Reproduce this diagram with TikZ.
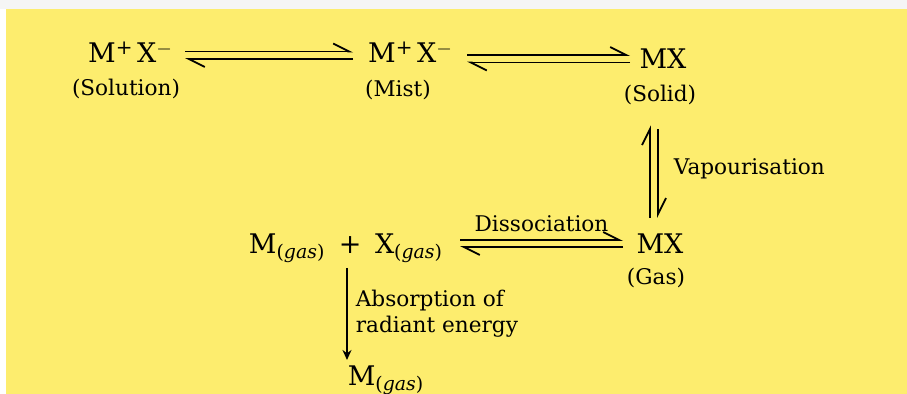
\documentclass[tikz,border=0pt]{standalone}
\usepackage{fontspec}
\setmainfont{DejaVu Serif}
\usetikzlibrary{arrows.meta}
\definecolor{paper}{RGB}{253,237,110}
\definecolor{band}{RGB}{245,245,245}
\newcommand{\charge}[1]{\raisebox{0.6ex}{\fontsize{10}{10}\selectfont #1}}

\begin{document}
\begin{tikzpicture}[
      x=0.5pt, y=-0.5pt,
      species/.style={inner sep=0pt, font=\fontsize{13.5}{16}\selectfont},
      lbl/.style={inner sep=0pt, font=\fontsize{10.8}{13}\selectfont},
      harp/.style={-{Straight Barb[harpoon, length=8pt, width=8pt]}, line width=0.9pt},
      arrow/.style={-{Stealth[length=5pt, width=4.5pt]}, line width=0.9pt}
    ]
    \useasboundingbox (0,0) rectangle (907,394);
    \fill[band] (0,0) rectangle (907,9);
    \fill[paper] (6,9) rectangle (907,394);

    \node[species, anchor=base] (sol) at (130,63) {M\charge{+}\,X\charge{$-$}};
    \node[lbl] (solL) at (126,89) {(Solution)};

    \node[species, anchor=base] (mist) at (410,63) {M\charge{+}\,X\charge{$-$}};
    \node[lbl] (mistL) at (398,90) {(Mist)};

    \node[species, anchor=base] (solid) at (663,69) {MX};
    \node[lbl] (solidL) at (660,95) {(Solid)};

    \node[species, anchor=base] (gas) at (660,254) {MX};
    \node[lbl] (gasL) at (656,278) {(Gas)};

    \node[species, anchor=base] (atoms) at (346,254) {M\textsubscript{(\textit{gas})}\enspace+\enspace X\textsubscript{(\textit{gas})}};

    \node[species, anchor=base] (mg) at (386,386) {M\textsubscript{(\textit{gas})}};

    \draw[harp] ([xshift=27.5pt,yshift=5.75pt]sol.base) -- ([xshift=-28.5pt,yshift=5.75pt]mist.base);
    \draw[harp] ([xshift=-28.5pt,yshift=2pt]mist.base) -- ([xshift=27.5pt,yshift=2pt]sol.base);

    \draw[harp] ([xshift=28.5pt,yshift=4pt]mist.base) -- ([xshift=-16.5pt,yshift=7pt]solid.base);
    \draw[harp] ([xshift=-16.5pt,yshift=3.25pt]solid.base) -- ([xshift=28.5pt,yshift=0.25pt]mist.base);

    \draw[harp] ([xshift=-5pt,yshift=8pt]gas.north) -- ([xshift=-5pt,yshift=-10pt]solidL.south);
    \draw[harp] ([xshift=-1pt,yshift=-12pt]solidL.south) -- node[lbl, midway, right=7.5pt, yshift=2.5pt] (vap) {Vapourisation} ([xshift=-1pt,yshift=8pt]gas.north);

    \draw[harp] ([xshift=57pt,yshift=7pt]atoms.base) -- node[lbl, midway, above=3.5pt] (diss) {Dissociation} ([xshift=-18.5pt,yshift=7pt]gas.base);
    \draw[harp] ([xshift=-18.5pt,yshift=3.5pt]gas.base) -- ([xshift=57pt,yshift=3.5pt]atoms.base);

    \draw[arrow] ([xshift=0.5pt,yshift=-7pt]atoms.base) -- node[lbl, midway, right=4pt, align=left] (absorb) {Absorption of\\radiant energy} ([xshift=-19.5pt,yshift=13pt]mg.base);
  \end{tikzpicture}
\end{document}
